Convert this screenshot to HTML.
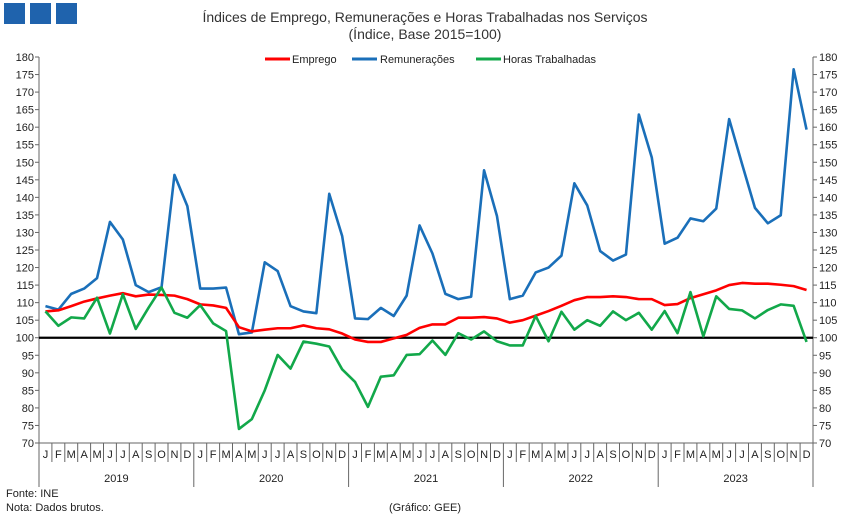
<!DOCTYPE html>
<html><head><meta charset="utf-8"><style>
body{margin:0;background:#fff;font-family:"Liberation Sans",sans-serif;}
svg{display:block}
</style></head><body>
<svg id="c" width="849" height="519" font-family="Liberation Sans, sans-serif">
<rect x="4" y="3" width="21" height="21" fill="#1f63ad"/>
<rect x="30" y="3" width="21" height="21" fill="#1f63ad"/>
<rect x="56" y="3" width="21" height="21" fill="#1f63ad"/>
<text x="425" y="22" text-anchor="middle" font-size="14" fill="#333">Índices de Emprego, Remunerações e Horas Trabalhadas nos Serviços</text>
<text x="425" y="39" text-anchor="middle" font-size="14" fill="#333">(Índice, Base 2015=100)</text>
<g font-size="11" fill="#222">
<line x1="265" y1="59" x2="290" y2="59" stroke="#ff0000" stroke-width="3"/><text x="292" y="63">Emprego</text>
<line x1="352" y1="59" x2="377" y2="59" stroke="#1a6fb9" stroke-width="3"/><text x="380" y="63">Remunerações</text>
<line x1="476" y1="59" x2="501" y2="59" stroke="#12a84a" stroke-width="3"/><text x="503" y="63">Horas Trabalhadas</text>
</g>
<text x="6" y="497" font-size="11" fill="#222">Fonte: INE</text>
<text x="6" y="511" font-size="11" fill="#222">Nota: Dados brutos.</text>
<text x="425" y="511" text-anchor="middle" font-size="11" fill="#222">(Gráfico: GEE)</text>
</svg>
<script>
const years=["2019","2020","2021","2022","2023"];
const monthLabels=["J","F","M","A","M","J","J","A","S","O","N","D"];
const yTicks=[70,75,80,85,90,95,100,105,110,115,120,125,130,135,140,145,150,155,160,165,170,175,180];
const emprego=[107.5,107.8,109,110.3,111.2,112,112.7,111.8,112.3,112.2,112,111,
109.5,109.2,108.5,103,101.8,102.3,102.7,102.7,103.5,102.7,102.4,101.2,
99.5,98.8,98.8,99.8,100.8,102.8,103.8,103.8,105.7,105.7,105.9,105.5,
104.3,105,106.3,107.6,109.1,110.7,111.6,111.6,111.8,111.6,111,111,
109.3,109.6,111.3,112.4,113.5,115,115.6,115.4,115.4,115.1,114.7,113.6];
const remuneracoes=[109,108,112.5,114,117,133,128,115,113,114.4,146.4,137.5,
114,114,114.3,101,101.5,121.5,119,109,107.5,107,141,129,
105.5,105.3,108.5,106.2,112,132,124,112.5,111,111.7,147.7,134.7,
111,112,118.6,120,123.4,144,137.7,124.7,122,123.7,163.6,151.4,
126.8,128.5,134,133.2,136.8,162.3,149.5,137,132.6,134.9,176.5,159.3];
const horas=[107.5,103.4,105.8,105.5,111.4,101.2,112.4,102.5,108.6,114.3,107.1,105.7,
109.3,104.1,101.9,74,76.8,85,95.1,91.2,98.9,98.3,97.5,91,
87.4,80.3,88.9,89.3,95.1,95.3,99.2,95.1,101.3,99.5,101.8,99,
97.8,97.8,106.2,99,107.4,102.3,105,103.4,107.5,105,107.1,102.3,
107.6,101.3,113,100.4,111.8,108.2,107.8,105.5,107.9,109.5,109.1,98.8];
const svg=document.getElementById('c');const NS='http://www.w3.org/2000/svg';
const L=39,R=813,T=57,B=443,N=60,step=(R-L)/N;
const X=i=>L+step*(i+0.5);
const Y=v=>B-(v-70)/(180-70)*(B-T);
function mk(t,a,p){const e=document.createElementNS(NS,t);for(const k in a)e.setAttribute(k,a[k]);(p||svg).appendChild(e);return e;}
const ax=mk('g',{});


mk('line',{x1:L,y1:T,x2:L,y2:B,stroke:'#666'},ax);
mk('line',{x1:R,y1:T,x2:R,y2:B,stroke:'#666'},ax);
mk('line',{x1:L,y1:B,x2:R,y2:B,stroke:'#666'},ax);
yTicks.forEach(v=>{const y=Y(v);
mk('line',{x1:L-4,y1:y,x2:L,y2:y,stroke:'#666'},ax);
mk('line',{x1:R,y1:y,x2:R+4,y2:y,stroke:'#666'},ax);
const t1=mk('text',{x:L-5,y:y+4,'text-anchor':'end','font-size':11,fill:'#222'},ax);t1.textContent=v;


const t2=mk('text',{x:R+6,y:y+4,'font-size':11,fill:'#222'},ax);t2.textContent=v;

});
for(let i=0;i<=N;i++){const x=L+step*i;const yr=i%12==0;
mk('line',{x1:x,y1:B,x2:x,y2:yr?487:462,stroke:'#666'},ax);}
for(let i=0;i<N;i++){const t=mk('text',{x:X(i),y:458,'text-anchor':'middle','font-size':11,fill:'#222'},ax);t.textContent=monthLabels[i%12];

}
years.forEach((yv,k)=>{const t=mk('text',{x:L+step*(12*k+6),y:482,'text-anchor':'middle','font-size':11,fill:'#222'},ax);t.textContent=yv;

});
const ref=mk('line',{x1:L,y1:Y(100),x2:R,y2:Y(100),stroke:'#000','stroke-width':2.2});


function series(d,c,name){const p=mk('polyline',{points:d.map((v,i)=>X(i)+','+Y(v)).join(' '),fill:'none',stroke:c,'stroke-width':2.6,'stroke-linejoin':'round'});

}
series(remuneracoes,'#1a6fb9','series-remuneracoes');
series(emprego,'#ff0000','series-emprego');
series(horas,'#12a84a','series-horas');
</script>
</body></html>
